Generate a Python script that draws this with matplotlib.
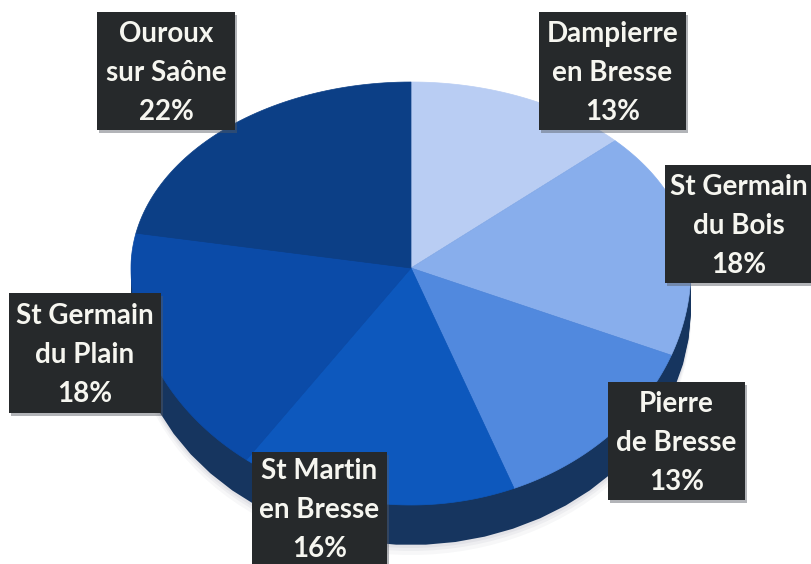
import matplotlib
matplotlib.use("agg")
import matplotlib.pyplot as plt
from matplotlib.patches import Rectangle
import numpy as np

labels = ["Dampierre\nen Bresse\n13%", "St Germain\ndu Bois\n18%", "Pierre\nde Bresse\n13%",
          "St Martin\nen Bresse\n16%", "St Germain\ndu Plain\n18%", "Ouroux\nsur Saône\n22%"]
values = [13, 18, 13, 16, 18, 22]
top_colors = ["#b9cdf3", "#88aeec", "#5189de", "#0d58bd", "#0b4ba8", "#0c3f86"]
side_color = "#16355f"
# label boxes in pixels of the reference: left, top, right, bottom
box_left = [539, 665, 608, 252, 9, 97]
box_top = [12, 165, 382, 452, 293, 12]
box_right = [686, 812, 745, 387, 161, 235]
box_bottom = [130, 283, 500, 564, 413, 130]

W, H = 812, 564
cx, cy = 411, 268
rx, ry_up, ry_down = 280, 186, 237
depth = 40


def outline(start, end, dy=0):
    """Wedge polygon between two angles, clockwise from the top of the pie.

    The tilted pie is drawn in perspective so its apex sits above the
    ellipse centre: the lower half gets a bigger radius than the upper.
    """
    t = np.radians(np.linspace(start, end, 60))
    ry = np.where(np.cos(t) > 0, ry_up, ry_down)
    x = cx + rx * np.sin(t)
    y = cy - ry * np.cos(t) + dy
    return np.r_[cx, x], np.r_[cy + dy, y]


fig = plt.figure(figsize=(W / 100, H / 100), dpi=100, facecolor="white")
ax = fig.add_axes([0, 0, 1, 1])
ax.set_xlim(0, W)
ax.set_ylim(H, 0)
ax.axis("off")

edges = np.cumsum([0] + values) / sum(values) * 360

# soft shadow under the pie
for grow, alpha in zip([10, 6, 3], [0.04, 0.05, 0.06]):
    x, y = outline(90, 270, depth + grow)
    ax.fill(x, y, color="#33415c", alpha=alpha, lw=0, zorder=0)

# extruded side first, then the top face
for dy in np.arange(depth, 0, -2):
    x, y = outline(0, 360, dy)
    ax.fill(x[1:], y[1:], color=side_color, lw=0, zorder=1)
for i in range(len(values)):
    x, y = outline(edges[i], edges[i + 1])
    ax.fill(x, y, color=top_colors[i], ec=top_colors[i], lw=0.5, zorder=2)

for lab, l, t, r, b in zip(labels, box_left, box_top, box_right, box_bottom):
    ax.add_patch(Rectangle((l + 2, t + 3), r - l, b - t, fc="#555a62", alpha=0.45, ec="none", zorder=4))
    ax.add_patch(Rectangle((l, t), r - l, b - t, fc="#26292b", ec="none", zorder=5))
    ax.text((l + r) / 2, (t + b) / 2 + 2, lab, ha="center", va="center", color="#f6f6f0", fontsize=20,
            fontweight="bold", family="Lato", linespacing=1.63, zorder=6)

fig.savefig("out.png", dpi=100)
